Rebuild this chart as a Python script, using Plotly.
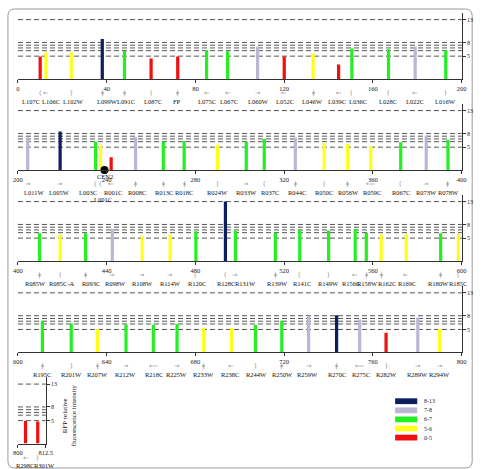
import plotly.graph_objects as go

# ---------------- data ----------------
legend_labels = ["8-13", "7-8", "6-7", "5-6", "0-5"]
legend_colors = ["#0b1f5e", "#b9b6d6", "#22f022", "#ffff1a", "#f01010"]
bin_edges = [8, 7, 6, 5]  # value >= edge -> that class

row_starts = [0, 200, 400, 600, 800]
row_lengths = [200, 200, 200, 200, 12.5]
row_ticks = [
    [0, 40, 80, 120, 160, 200],
    [200, 240, 280, 320, 360, 400],
    [400, 440, 480, 520, 560, 600],
    [600, 640, 680, 720, 760, 800],
    [800, 812.5],
]
y_ticks = [5, 8, 13]
ref_levels = [13, 8, 7.4, 6.8, 6.2, 5]

r1_names = ["L107C", "L106C", "L102W", "L099W", "L091C", "L087C", "FP", "L075C", "L067C",
            "L060W", "L052C", "L046W", "L039C", "L036C", "L028C", "L022C", "L016W"]
r1_label_x = [5.9, 15.1, 24.9, 40.3, 48.7, 60.8, 71.8, 85.0, 95.3,
              108.4, 120.2, 132.6, 144.0, 153.1, 166.9, 179.1, 192.8]
r1_bar_x = [10, 12.6, 24, 38, 48, 60, 72, 85, 94.5, 108, 120, 133, 144.5, 150.5, 167, 179, 192.8]
r1_values = [4.9, 5.8, 5.8, 8.75, 6.15, 4.5, 4.9, 6.3, 6.1, 7.05, 4.95, 5.6, 3.2, 6.7, 6.5, 7.1, 6.3]
r1_glyphs = ["(", "←", ")", "ǂ", "ǂ", "(", "ǂ", "←", "←", "→", "←", "ǂ", "←", "(", "(", "←", ")"]

r2_names = ["L011W", "L005W", "L003C", "L001C", "R001C", "R008C", "R013C", "R018C", "R024W",
            "R033W", "R037C", "R044C", "R050C", "R056W", "R059C", "R067C", "R073W", "R078W"]
r2_label_x = [207.0, 218.8, 231.5, 238.1, 242.9, 253.5, 265.7, 274.9, 290.1,
              303.2, 313.6, 325.7, 338.0, 349.0, 359.7, 372.5, 384.2, 394.2]
r2_bar_x = [204.4, 219, 235, 237.2, 242, 253, 265.5, 274.9, 290, 302.9, 311, 325, 338, 348.6,
            359, 372.5, 384, 393.8]
r2_values = [7.1, 8.4, 6.2, 5.5, 2.8, 7.2, 6.2, 6.35, 5.5, 6.2, 6.8, 7.1, 5.9, 5.7, 5.2, 6.1, 7.5, 6.6]
r2_glyphs = ["→", "→", "(", "(", "←", "ǂ", "ǂ", "ǂ", ")", "→", "(", "ǂ", "(", "ǂ", "⟵", "(", "→", "ǂ"]

r3_names = ["R085W", "R085C-A", "R093C", "R098W", "R108W", "R114W", "R120C", "R128C", "R131W",
            "R139W", "R141C", "R149W", "R156C", "R158W", "R162C", "R169C", "R180W", "R185C"]
r3_label_x = [408.1, 419.8, 432.7, 444.0, 456.0, 468.6, 480.6, 493.8, 502.6,
              516.9, 527.9, 540.0, 549.9, 557.5, 566.3, 575.4, 589.6, 598.5]
r3_bar_x = [409.7, 419, 430.5, 442.5, 456, 468.6, 480.2, 493.5, 498, 516, 527, 540, 552, 557,
            563.7, 575, 590.5, 598.5]
r3_values = [6.05, 5.9, 6.05, 7.05, 5.5, 5.8, 6.5, 13.0, 6.6, 6.2, 6.8, 6.65, 6.95, 6.2, 5.8, 5.95,
             6.05, 5.95]
r3_glyphs = ["ǂ", "(", "ǂ", "→", "→", "→", "(", "(", "→", "ǂ", "(", ")", "←", "ǂ", "ǂ", "←", "ǂ", "("]

r4_names = ["R195C", "R201W", "R207W", "R212W", "R218C", "R225W", "R233W", "R238C",
            "R244W", "R250W", "R259W", "R270C", "R275C", "R282W", "R289W", "R294W"]
r4_label_x = [611.0, 624.2, 635.9, 648.4, 661.1, 671.5, 683.4, 695.7,
              707.7, 719.1, 730.4, 743.6, 754.6, 766.0, 780.2, 790.1]
r4_bar_x = [611, 624, 635.8, 648.7, 661, 671.7, 683.7, 696.2, 707, 718.9, 731, 743.6, 754,
            765.9, 780.2, 790]
r4_values = [6.9, 6.3, 5.1, 6.1, 6.05, 6.2, 5.4, 5.3, 6.05, 6.9, 7.9, 8.1, 7.2, 4.3, 7.6, 5.1]
r4_glyphs = ["ǂ", ")", "ǂ", "→", "⟵", "→", "ǂ", "←", ")", "ǂ", "→", "ǂ", "⟵", ")", "→", "→"]

r5_names = ["R298C", "R301W"]
r5_label_x = [803.2, 812.0]
r5_bar_x = [803.4, 808.9]
r5_values = [4.9, 4.8]
r5_glyphs = ["←", ")"]

centromere_name = "CEN2"
centromere_x = 239
second_line_labels = ["L001C"]

y_title = "RFP relative<br>fluorescence intensity"

rows = [
    (r1_names, r1_label_x, r1_bar_x, r1_values, r1_glyphs),
    (r2_names, r2_label_x, r2_bar_x, r2_values, r2_glyphs),
    (r3_names, r3_label_x, r3_bar_x, r3_values, r3_glyphs),
    (r4_names, r4_label_x, r4_bar_x, r4_values, r4_glyphs),
    (r5_names, r5_label_x, r5_bar_x, r5_values, r5_glyphs),
]

# ---------------- layout constants ----------------
W, H = 486, 469
X0_PX = 13.3
X_PX_PER_UNIT = 2.275
Y_PX_PER_UNIT = 4.57
YMAX = 14.5
ROW_BASE_PX = [79, 170, 261, 352.3, 443.5]
BAR_W = 1.45
SERIF = "Liberation Serif"
AXIS_COL = "#333333"


def color_for(v):
    for edge, col in zip(bin_edges, legend_colors[:4]):
        if v >= edge:
            return col
    return legend_colors[4]


def pxx(px):
    return px / W


def pxy(py):
    return 1 - py / H


fig = go.Figure()
shapes = []
annotations = []
layout_axes = {}

for i, (names, label_x, bar_x, values, glyphs) in enumerate(rows):
    xa = "x" if i == 0 else f"x{i + 1}"
    ya = "y" if i == 0 else f"y{i + 1}"
    xkey = "xaxis" if i == 0 else f"xaxis{i + 1}"
    ykey = "yaxis" if i == 0 else f"yaxis{i + 1}"
    start, length = row_starts[i], row_lengths[i]
    base = ROW_BASE_PX[i]

    fig.add_trace(go.Bar(
        x=bar_x, y=values, width=BAR_W,
        marker=dict(color=[color_for(v) for v in values], line=dict(width=0)),
        xaxis=xa, yaxis=ya, showlegend=False, hoverinfo="skip",
    ))

    layout_axes[xkey] = dict(
        domain=[pxx(X0_PX), pxx(X0_PX + length * X_PX_PER_UNIT)],
        range=[start, start + length], anchor=ya,
        tickvals=row_ticks[i], ticktext=[f"{t:g}" for t in row_ticks[i]],
        showline=True, linecolor=AXIS_COL, linewidth=1,
        ticks="outside", ticklen=3, tickcolor=AXIS_COL,
        tickfont=dict(family=SERIF, size=6.5, color="#222"),
        showgrid=False, zeroline=False, fixedrange=True,
    )
    layout_axes[ykey] = dict(
        domain=[pxy(base), pxy(base - YMAX * Y_PX_PER_UNIT)],
        range=[0, YMAX], anchor=xa, side="right",
        tickvals=y_ticks,
        showline=True, linecolor=AXIS_COL, linewidth=1,
        ticks="outside", ticklen=3, tickcolor=AXIS_COL,
        tickfont=dict(family=SERIF, size=6, color="#222"),
        showgrid=False, zeroline=False, fixedrange=True,
    )

    for lvl in ref_levels:
        shapes.append(dict(
            type="line", xref=f"{xa} domain", yref=ya, x0=0, x1=1, y0=lvl, y1=lvl,
            line=dict(color="#555555", width=1, dash="5px,3px"), layer="below",
        ))

    for name, lx in zip(names, label_x):
        shift = -29 if name in second_line_labels else -22
        annotations.append(dict(
            x=lx, y=0, xref=xa, yref=ya, yshift=shift, text=name, showarrow=False,
            font=dict(family=SERIF, size=6.5, color="#111"), xanchor="center", yanchor="middle",
        ))
    for gx, g in zip(bar_x, glyphs):
        annotations.append(dict(
            x=gx, y=0, xref=xa, yref=ya, yshift=-14, text=g, showarrow=False,
            font=dict(family="DejaVu Sans", size=6.5, color="#8c8c8c"),
            xanchor="center", yanchor="middle",
        ))

# centromere marker
fig.add_trace(go.Scatter(
    x=[centromere_x], y=[0], xaxis="x2", yaxis="y2", mode="markers",
    marker=dict(color="black", size=8), cliponaxis=False, showlegend=False, hoverinfo="skip",
))
annotations.append(dict(
    x=centromere_x, y=0, xref="x2", yref="y2", yshift=-6, text=centromere_name,
    showarrow=False, font=dict(family=SERIF, size=6.5, color="#111"),
))

# y-axis title
annotations.append(dict(
    x=pxx(66), y=pxy(415), xref="paper", yref="paper", text=y_title, textangle=-90,
    showarrow=False, font=dict(family=SERIF, size=7, color="#111"),
    xanchor="center", yanchor="middle",
))

# legend
LEG_X0, LEG_X1 = 400, 422.7
LEG_TOP, LEG_STEP, LEG_H = 398.3, 9.1, 5.8
for k, (lab, col) in enumerate(zip(legend_labels, legend_colors)):
    top = LEG_TOP + k * LEG_STEP
    shapes.append(dict(
        type="rect", xref="paper", yref="paper",
        x0=pxx(LEG_X0), x1=pxx(LEG_X1), y0=pxy(top + LEG_H), y1=pxy(top),
        fillcolor=col, line=dict(width=0),
    ))
    annotations.append(dict(
        x=pxx(428), y=pxy(top + LEG_H / 2), xref="paper", yref="paper", text=lab,
        showarrow=False, xanchor="left", yanchor="middle",
        font=dict(family=SERIF, size=6, color="#222"),
    ))

# rounded frame
fx0, fy0, fx1, fy1, r = 3, 9, 479, 468, 7
path = (f"M {pxx(fx0 + r)} {pxy(fy0)} L {pxx(fx1 - r)} {pxy(fy0)} "
        f"Q {pxx(fx1)} {pxy(fy0)} {pxx(fx1)} {pxy(fy0 + r)} "
        f"L {pxx(fx1)} {pxy(fy1 - r)} Q {pxx(fx1)} {pxy(fy1)} {pxx(fx1 - r)} {pxy(fy1)} "
        f"L {pxx(fx0 + r)} {pxy(fy1)} Q {pxx(fx0)} {pxy(fy1)} {pxx(fx0)} {pxy(fy1 - r)} "
        f"L {pxx(fx0)} {pxy(fy0 + r)} Q {pxx(fx0)} {pxy(fy0)} {pxx(fx0 + r)} {pxy(fy0)} Z")
shapes.append(dict(type="path", xref="paper", yref="paper", path=path,
                   line=dict(color="#9a9a9a", width=1), layer="below"))

fig.update_layout(
    width=W, height=H, margin=dict(l=0, r=0, t=0, b=0, pad=0),
    paper_bgcolor="white", plot_bgcolor="rgba(0,0,0,0)",
    barmode="overlay", showlegend=False,
    shapes=shapes, annotations=annotations,
    **layout_axes,
)

fig.write_html("out.html")
